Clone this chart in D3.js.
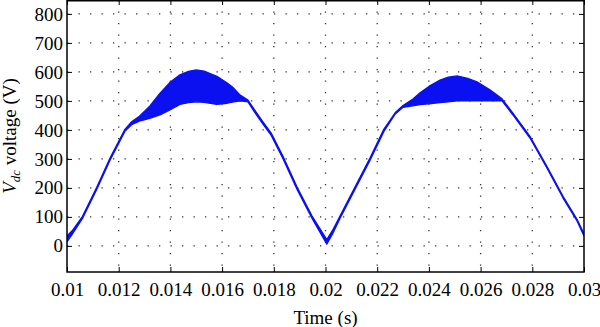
<!DOCTYPE html>
<html>
<head>
<meta charset="utf-8">
<script src="https://cdn.jsdelivr.net/npm/d3@7"></script>
<style>
  html, body { margin: 0; padding: 0; background: #fff; }
  svg { display: block; }
  svg text { font-family: "Liberation Serif", "Times New Roman", serif !important; fill: #000; }
</style>
</head>
<body>
<svg id="chart" width="600" height="327"></svg>
<script>
// ---- data ----
const time = [0.0100, 0.0102, 0.0106, 0.01115, 0.01166, 0.01224, 0.0125, 0.0128, 0.0132, 0.0136,
  0.0140, 0.01437, 0.0147, 0.0150, 0.0153, 0.0158, 0.0162, 0.0164, 0.0167, 0.0170,
  0.01725, 0.01758, 0.0179, 0.01836, 0.0189, 0.01948, 0.02005, 0.0203, 0.02056, 0.02114,
  0.02172, 0.02226, 0.0227, 0.0230, 0.02337, 0.02366, 0.0240, 0.02443, 0.02475, 0.02509,
  0.0255, 0.02586, 0.02636, 0.02683, 0.0273, 0.02791, 0.02857, 0.02919, 0.02973, 0.0300];
const upperV = [34, 52, 102, 202, 302, 402, 428, 447, 482, 527,
  565, 590, 602, 607, 603, 585, 562, 548, 520, 503,
  470, 428, 389, 308, 203, 103, 22, 58, 103, 203,
  303, 403, 460, 484, 506, 528, 550, 572, 582, 586,
  578, 566, 538, 507, 452, 378, 274, 171, 92, 42];
const lowerV = [14, 40, 95, 195, 295, 395, 418, 430, 440, 452,
  470, 488, 494, 497, 495, 488, 492, 496, 500, 497,
  462, 420, 381, 300, 195, 95, 6, 46, 95, 195,
  295, 395, 455, 478, 483, 487, 490, 494, 497, 500,
  500, 500, 500, 500, 446, 372, 268, 165, 86, 34];
const xTicks = [0.01, 0.012, 0.014, 0.016, 0.018, 0.02, 0.022, 0.024, 0.026, 0.028, 0.03];
const xTickLabels = ["0.01", "0.012", "0.014", "0.016", "0.018", "0.02", "0.022", "0.024", "0.026", "0.028", "0.03"];
const yTicks = [0, 100, 200, 300, 400, 500, 600, 700, 800];
const xDomain = [0.01, 0.03];
const yDomain = [-90, 848];

// ---- layout ----
const FONT = '"Liberation Serif", "Times New Roman", serif';
const FS = 19;
const svg = d3.select("#chart").attr("font-family", FONT);
const m = { left: 67, right: 584, top: 0, bottom: 272 };
const x = d3.scaleLinear().domain(xDomain).range([m.left, m.right]);
const y = d3.scaleLinear().domain(yDomain).range([m.bottom, m.top]);

const rows = time.map((t, i) => ({ t, hi: upperV[i], lo: lowerV[i] }));

// grid
const grid = svg.append("g").attr("stroke", "#333").attr("stroke-width", 1.3)
  .attr("stroke-dasharray", "1.3,10.2").attr("fill", "none");
grid.selectAll("line.gx").data(xTicks.slice(1, -1)).join("line")
  .attr("x1", d => x(d)).attr("x2", d => x(d))
  .attr("y1", m.top).attr("y2", m.bottom);
grid.selectAll("line.gy").data(yTicks).join("line")
  .attr("y1", d => y(d)).attr("y2", d => y(d))
  .attr("x1", m.left).attr("x2", m.right);

// signal band
svg.append("clipPath").attr("id", "clip").append("rect")
  .attr("x", m.left).attr("y", m.top).attr("width", m.right - m.left).attr("height", m.bottom - m.top);
const area = d3.area().x(d => x(d.t)).y0(d => y(d.lo)).y1(d => y(d.hi)).curve(d3.curveLinear);
svg.append("path").datum(rows).attr("clip-path", "url(#clip)")
  .attr("d", area).attr("fill", "#0a10f0").attr("stroke", "#0a10f0")
  .attr("stroke-width", 1.3).attr("stroke-linejoin", "round");

// axes (box, ticks inward)
const tl = 5;
const axB = svg.append("g").attr("transform", `translate(0,${m.bottom})`)
  .call(d3.axisBottom(x).tickValues(xTicks).tickFormat((d, i) => xTickLabels[i]).tickSizeInner(-tl).tickSizeOuter(0).tickPadding(11));
const axT = svg.append("g").attr("transform", `translate(0,${m.top})`)
  .call(d3.axisTop(x).tickValues(xTicks).tickFormat("").tickSizeInner(-tl).tickSizeOuter(0));
const axL = svg.append("g").attr("transform", `translate(${m.left},0)`)
  .call(d3.axisLeft(y).tickValues(yTicks).tickFormat(d3.format("d")).tickSizeInner(-tl).tickSizeOuter(0).tickPadding(4));
const axR = svg.append("g").attr("transform", `translate(${m.right},0)`)
  .call(d3.axisRight(y).tickValues(yTicks).tickFormat("").tickSizeInner(-tl).tickSizeOuter(0));
[axB, axT, axL, axR].forEach(a => {
  a.attr("font-family", FONT).attr("font-size", FS);
  a.select(".domain").remove();
  a.selectAll(".tick line").attr("stroke", "#000").attr("stroke-width", 1);
  a.selectAll("text").attr("font-family", FONT).attr("font-size", FS).attr("fill", "#000");
});
svg.append("rect").attr("x", m.left).attr("y", m.top + 0.75)
  .attr("width", m.right - m.left).attr("height", m.bottom - m.top - 0.75)
  .attr("fill", "none").attr("stroke", "#000").attr("stroke-width", 1.5);

// axis titles
svg.append("text").attr("x", (m.left + m.right) / 2).attr("y", 324)
  .attr("text-anchor", "middle").attr("font-size", FS).text("Time (s)");
const yl = svg.append("text").attr("transform", `translate(16,136) rotate(-90)`)
  .attr("text-anchor", "middle").attr("font-size", FS);
yl.append("tspan").attr("font-style", "italic").text("V");
yl.append("tspan").attr("font-style", "italic").attr("font-size", 13).attr("dy", 4).text("dc");
yl.append("tspan").attr("dy", -4).text(" voltage (V)");
</script>
</body>
</html>
